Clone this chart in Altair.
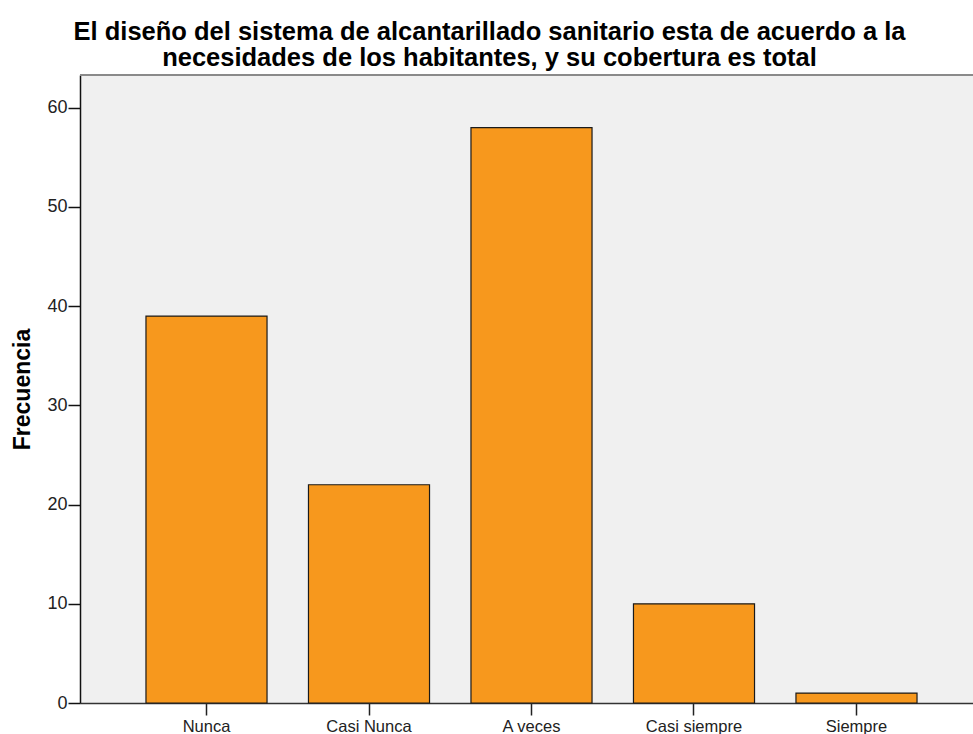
import altair as alt
import pandas as pd

# Frequency of answers per response category
categorias = ["Nunca", "Casi Nunca", "A veces", "Casi siempre", "Siempre"]
frecuencias = [39, 22, 58, 10, 1]

titulo = [
    "El diseño del sistema de alcantarillado sanitario esta de acuerdo a la",
    "necesidades de los habitantes, y su cobertura es total",
]

FONT = "Liberation Sans"
W, H = 893, 628

df = pd.DataFrame({"categoria": categorias, "frecuencia": frecuencias})

barras = alt.Chart(df).mark_bar(
    color="#f7981d", stroke="#1a1a1a", strokeWidth=1.2
).encode(
    x=alt.X(
        "categoria:N",
        sort=categorias,
        title=None,
        scale=alt.Scale(range=[0, 903], paddingInner=0.255, paddingOuter=0.406),
        axis=alt.Axis(
            labelAngle=0, labelFont=FONT, labelFontSize=16.5, labelColor="#222222",
            labelPadding=3, tickSize=12, tickColor="#222222", tickWidth=1.5,
            domainColor="#333333", domainWidth=1.5,
        ),
    ),
    y=alt.Y(
        "frecuencia:Q",
        title="Frecuencia",
        scale=alt.Scale(domain=[0, 63.3], nice=False, zero=True),
        axis=alt.Axis(
            values=[0, 10, 20, 30, 40, 50, 60], grid=False,
            labelFont=FONT, labelFontSize=18, labelColor="#222222", labelPadding=1,
            tickSize=12, tickColor="#111111", tickWidth=1.5,
            domainColor="#111111", domainWidth=1.5,
            titleFont=FONT, titleFontSize=23, titleFontWeight="bold", titleColor="#000000",
            titleX=-58, titleY=H / 2, titleAngle=270, titleBaseline="middle", titleAlign="center",
        ),
    ),
)

# grey frame line along the top of the plot area
marco = alt.Chart(alt.Data(values=[{}])).mark_rule(color="#8a8a8a", strokeWidth=2).encode(
    x=alt.value(0), x2=alt.value(W), y=alt.value(0)
)

chart = alt.layer(barras, marco).properties(
    width=W,
    height=H,
    background="white",
    title=alt.TitleParams(
        text=titulo, font=FONT, fontSize=25.5, fontWeight="bold", color="#000000",
        lineHeight=25.5, anchor="middle", dx=-37, offset=3,
    ),
    padding={"left": 80, "top": 75, "right": 0, "bottom": 31},
    autosize=alt.AutoSizeParams(type="none"),
).configure_view(
    fill="#f0f0f0", stroke=None
)

chart.save("out.html", embed_options={"renderer": "svg", "actions": False})
